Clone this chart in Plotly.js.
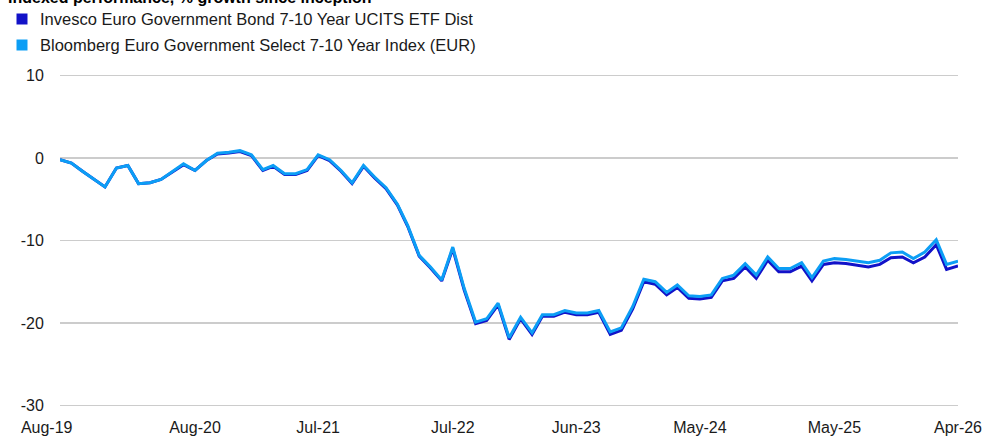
<!DOCTYPE html>
<html>
<head>
<meta charset="utf-8">
<script src="https://cdn.plot.ly/plotly-3.0.1.min.js"></script>
<style>html,body{margin:0;padding:0;background:#fff;}#chart{width:992px;height:439px;}</style>
</head>
<body>
<div id="chart"></div>
<script>
const chartTitle = "Indexed performance, % growth since inception";
const seriesNames = ["Invesco Euro Government Bond 7-10 Year UCITS ETF Dist",
                     "Bloomberg Euro Government Select 7-10 Year Index (EUR)"];
const startMonth = "2019-08";
const tickLabels = ["Aug-19","Aug-20","Jul-21","Jul-22","Jun-23","May-24","May-25","Apr-26"];
const tickDates = ["2019-08-01","2020-08-01","2021-07-01","2022-07-01","2023-06-01","2024-05-01","2025-05-01","2026-04-01"];
const yTicks = [-30, -20, -10, 0, 10];

const etfValues = [
  -0.2,-0.6,-1.6,-2.6,-3.5,-1.2,-0.9,-3.1,-3.0,-2.6,
  -1.7,-0.8,-1.5,-0.3,0.5,0.6,0.8,0.3,-1.5,-1.0,
  -2.0,-2.0,-1.5,0.3,-0.3,-1.6,-3.1,-1.0,-2.4,-3.7,
  -5.7,-8.3,-11.9,-13.3,-14.9,-11.0,-16.0,-20.1,-19.7,-17.8,
  -22.0,-19.5,-21.4,-19.2,-19.2,-18.7,-19.0,-19.0,-18.7,-21.4,
  -20.9,-18.3,-15.0,-15.3,-16.6,-15.7,-17.0,-17.1,-16.9,-14.9,
  -14.6,-13.2,-14.6,-12.4,-13.8,-13.8,-13.1,-14.9,-12.9,-12.7,
  -12.8,-13.0,-13.2,-12.9,-12.1,-12.0,-12.7,-12.0,-10.5,-13.5,-13.1
];
const indexValues = [
  -0.2,-0.6,-1.6,-2.6,-3.5,-1.2,-0.9,-3.1,-3.0,-2.6,
  -1.6,-0.7,-1.5,-0.3,0.6,0.7,0.9,0.4,-1.4,-0.9,
  -1.9,-1.9,-1.4,0.4,-0.2,-1.5,-3.0,-0.9,-2.3,-3.6,
  -5.6,-8.2,-11.8,-13.2,-14.8,-10.8,-15.8,-19.9,-19.5,-17.6,
  -21.8,-19.3,-21.2,-19.0,-19.0,-18.5,-18.8,-18.8,-18.5,-21.1,
  -20.6,-18.0,-14.7,-15.0,-16.3,-15.4,-16.7,-16.8,-16.6,-14.6,
  -14.2,-12.8,-14.2,-12.0,-13.4,-13.4,-12.7,-14.5,-12.5,-12.2,
  -12.3,-12.5,-12.7,-12.4,-11.5,-11.4,-12.2,-11.4,-9.9,-12.9,-12.5
];

const seriesColors = ["#1212c8", "#0c9ef5"];

// month dates for x
const dates = [];
{
  let y = parseInt(startMonth.slice(0,4)), m = parseInt(startMonth.slice(5,7));
  for (let i = 0; i < etfValues.length; i++) {
    dates.push(y + "-" + String(m).padStart(2,"0") + "-01");
    m++; if (m > 12) { m = 1; y++; }
  }
}

const ticktext = tickLabels.slice();
ticktext[0] = tickLabels[0] + "\u00a0".repeat(6);

const font = "Liberation Sans, Arial, sans-serif";

// plot frame in pixels
const W = 992, H = 439, ML = 60, MR = 34, MT = 74, MB = 32;
const PW = W - ML - MR, PH = H - MT - MB;
const px2x = p => (p - ML) / PW;
const py2y = p => (H - MB - p) / PH;

const traces = [
  {x: dates, y: etfValues, type: "scatter", mode: "lines", name: seriesNames[0],
   line: {color: seriesColors[0], width: 3}, showlegend: false, hoverinfo: "skip"},
  {x: dates, y: indexValues, type: "scatter", mode: "lines", name: seriesNames[1],
   line: {color: seriesColors[1], width: 3}, showlegend: false, hoverinfo: "skip"}
];

const legendRows = [19, 45];
const annotations = [
  {text: "<b>" + chartTitle + "</b>", xref: "paper", yref: "paper", x: px2x(6), xanchor: "left",
   y: py2y(-3), yanchor: "middle", showarrow: false, font: {family: font, size: 16, color: "#000"}}
];
const shapes = [];
seriesNames.forEach((n, i) => {
  annotations.push({text: n, xref: "paper", yref: "paper", x: px2x(38), xanchor: "left",
    y: py2y(legendRows[i]), yanchor: "middle", showarrow: false,
    font: {family: font, size: 16.5, color: "#1a1a1a"}});
  shapes.push({type: "rect", xref: "paper", yref: "paper",
    x0: px2x(16.5), x1: px2x(27.5), y0: py2y(legendRows[i] + 5.5), y1: py2y(legendRows[i] - 5.5),
    fillcolor: seriesColors[i], line: {width: 0}});
});

const layout = {
  width: W, height: H,
  margin: {l: ML, r: MR, t: MT, b: MB, autoexpand: false},
  paper_bgcolor: "#fff", plot_bgcolor: "#fff",
  font: {family: font, size: 16, color: "#1a1a1a"},
  showlegend: false,
  xaxis: {type: "date", range: [dates[0], dates[dates.length-1]],
          tickmode: "array", tickvals: tickDates, ticktext: ticktext,
          showgrid: false, zeroline: false, showline: false,
          ticks: "outside", ticklen: 6, tickcolor: "rgba(0,0,0,0)",
          tickfont: {family: font, size: 16, color: "#1a1a1a"}, fixedrange: true},
  yaxis: {range: [-30.2, 10.2], tickvals: yTicks, ticktext: yTicks.map(String),
          showgrid: true, gridcolor: "#cccccc", gridwidth: 1.5, zeroline: false, showline: false,
          ticks: "outside", ticklen: 12, tickcolor: "rgba(0,0,0,0)",
          tickfont: {family: font, size: 16, color: "#1a1a1a"}, fixedrange: true},
  annotations: annotations,
  shapes: shapes
};

Plotly.newPlot("chart", traces, layout, {displayModeBar: false, staticPlot: true});
</script>
</body>
</html>
